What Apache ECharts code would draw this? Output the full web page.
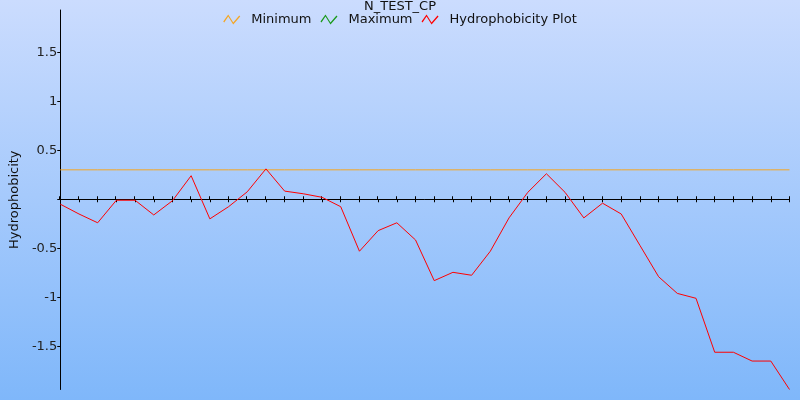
<!DOCTYPE html>
<html>
<head>
<meta charset="utf-8">
<script src="https://cdn.jsdelivr.net/npm/echarts@6/dist/echarts.min.js"></script>
<style>
html,body{margin:0;padding:0;}
#c{width:800px;height:400px;}
</style>
</head>
<body>
<div id="c"></div>
<script>
var titleText = 'N_TEST_CP';
var yAxisName = 'Hydrophobicity';
var seriesNames = ['Minimum', 'Maximum', 'Hydrophobicity Plot'];
var positions = [];
for (var i = 1; i <= 40; i++) positions.push(String(i));
var hydrophobicity = [
  -0.05, -0.15, -0.24, -0.01, -0.01, -0.16, -0.015, 0.24, -0.20, -0.076,
  0.076, 0.31, 0.083, 0.056, 0.02, -0.076, -0.53, -0.32, -0.24, -0.415,
  -0.83, -0.745, -0.775, -0.53, -0.19, 0.07, 0.26, 0.07, -0.19, -0.04,
  -0.15, -0.47, -0.79, -0.96, -1.01, -1.56, -1.56, -1.65, -1.65, -1.94
];
var minimumLevel = 0.30;
var minimumValues = positions.map(function(){ return minimumLevel; });
var maximumValues = [];
var yMin = -1.94, yMax = 1.93;

var iconPath = 'path://M0,7 L5,0 L10,8 L16,1 L17,2 L10,10 L5,2 L1,8 Z';
var gridBox = {left: 59.5, right: 10.5, top: 10, bottom: 10.5};

var chart = echarts.init(document.getElementById('c'), null, {renderer: 'canvas'});
chart.setOption({
  animation: false,
  backgroundColor: {
    type: 'linear', x: 0, y: 0, x2: 0, y2: 1,
    colorStops: [{offset: 0, color: '#cbdcfe'}, {offset: 1, color: '#7fb7fa'}]
  },
  title: {
    text: titleText, left: 'center', top: -5,
    textStyle: {fontFamily: 'DejaVu Sans', fontSize: 13, fontWeight: 'normal', color: '#111'}
  },
  legend: {
    top: 8, left: 'center', itemWidth: 17, itemHeight: 10, itemGap: 9,
    icon: iconPath,
    itemStyle: {borderWidth: 0},
    textStyle: {fontFamily: 'DejaVu Sans', fontSize: 13, color: '#111', padding: [0, 0, 0, 6]},
    data: seriesNames
  },
  grid: [Object.assign({}, gridBox), Object.assign({}, gridBox)],
  xAxis: [{
    gridIndex: 0, type: 'category', data: positions, boundaryGap: false, position: 'bottom',
    axisLine: {onZero: true, lineStyle: {color: '#000', width: 1}},
    axisTick: {show: true, interval: 0, length: 3, lineStyle: {color: '#000'}},
    axisLabel: {show: false}, splitLine: {show: false}
  }, {
    gridIndex: 1, type: 'category', data: positions, boundaryGap: false, position: 'top',
    axisLine: {show: false, onZero: true},
    axisTick: {show: true, interval: 0, length: 3, lineStyle: {color: '#000'}},
    axisLabel: {show: false}, splitLine: {show: false}
  }],
  yAxis: [{
    gridIndex: 0, type: 'value', min: yMin, max: yMax, splitNumber: 8,
    name: yAxisName, nameLocation: 'middle', nameGap: 35,
    nameTextStyle: {fontFamily: 'DejaVu Sans', fontSize: 13, color: '#111'},
    axisLine: {show: true, lineStyle: {color: '#000', width: 1}},
    axisTick: {show: true, length: 3, lineStyle: {color: '#000'}},
    axisLabel: {
      margin: 3, fontFamily: 'DejaVu Sans', fontSize: 13, color: '#222',
      showMinLabel: false, showMaxLabel: false,
      formatter: function (v) {
        if (Math.abs(v) < 1e-9) return '';
        if (Math.abs(v * 2 - Math.round(v * 2)) > 1e-6) return '';
        return String(Math.round(v * 10) / 10);
      }
    },
    splitLine: {show: false}
  }, {
    gridIndex: 1, type: 'value', min: yMin, max: yMax, show: false
  }],
  series: [{
    name: seriesNames[0], type: 'line', data: minimumValues, showSymbol: false,
    color: '#f5a623', lineStyle: {color: '#f5a623', width: 1}
  }, {
    name: seriesNames[1], type: 'line', data: maximumValues, showSymbol: false,
    color: '#1a9a1a', lineStyle: {color: '#1a9a1a', width: 1}
  }, {
    name: seriesNames[2], type: 'line', data: hydrophobicity, showSymbol: false,
    color: '#ff0000', lineStyle: {color: '#ff0000', width: 1}
  }]
});
</script>
</body>
</html>
